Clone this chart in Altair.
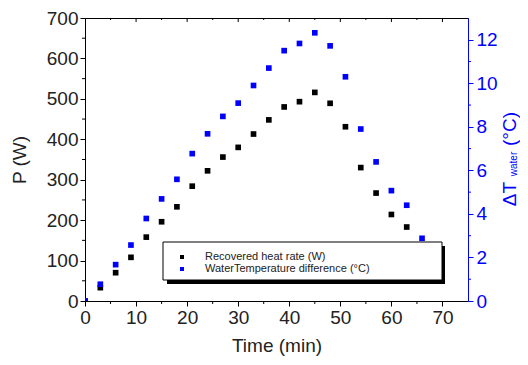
import altair as alt
import pandas as pd

# ---- data ----
time_p = [0, 3, 6, 9, 12, 15, 18, 21, 24, 27, 30, 33, 36, 39, 42, 45, 48, 51, 54, 57, 60, 63]
power_w = [0, 33, 70, 108, 158, 196, 233, 284, 322, 356, 380, 413, 448, 480, 493, 516, 489, 431, 330, 267, 214, 183]
time_dt = [0, 3, 6, 9, 12, 15, 18, 21, 24, 27, 30, 33, 36, 39, 42, 45, 48, 51, 54, 57, 60, 63, 66]
delta_t = [0, 0.77, 1.67, 2.57, 3.79, 4.69, 5.59, 6.77, 7.68, 8.48, 9.09, 9.9, 10.7, 11.5, 11.83,
           12.32, 11.72, 10.3, 7.9, 6.39, 5.07, 4.4, 2.88]

x_major = [0, 10, 20, 30, 40, 50, 60, 70]
x_minor = [5, 15, 25, 35, 45, 55, 65]
p_major = [0, 100, 200, 300, 400, 500, 600, 700]
p_minor = [50, 150, 250, 350, 450, 550, 650]
dt_major = [0, 2, 4, 6, 8, 10, 12]
dt_minor = [1, 3, 5, 7, 9, 11]

legend_labels = ["Recovered heat rate (W)", "WaterTemperature difference (°C)"]
legend_colors = ["#000000", "#0000FF"]

W, H = 383, 283
FONT = "Liberation Sans"
BLUE = "#0000FF"

xs = alt.Scale(domain=[0, 75], nice=False, zero=False)
ys_left = alt.Scale(domain=[0, 700], nice=False)
ys_right = alt.Scale(domain=[0, 13], nice=False)

df_p = pd.DataFrame({"t": time_p, "P": power_w})
df_dt = pd.DataFrame({"t": time_dt, "dT": delta_t})

x_axis = alt.Axis(values=x_major, title="Time (min)", tickSize=5, labelPadding=2,
                  labelFontSize=19, titleFontSize=19, titleFontWeight="normal",
                  labelFlush=False, labelOverlap=False, titlePadding=9,
                  domainColor="black", tickColor="black", labelColor="#222", titleColor="#222")
y_left_axis = alt.Axis(values=p_major, title="P (W)", tickSize=5, labelPadding=2,
                       labelFontSize=19, titleFontSize=19, titleFontWeight="normal",
                       labelFlush=False, labelOverlap=False, titlePadding=17,
                       domainColor="black", tickColor="black", labelColor="#222",
                       titleColor="#222")
y_right_axis = alt.Axis(orient="right", values=dt_major, title=None, tickSize=5,
                        labelPadding=3, labelFontSize=19, labelFlush=False,
                        labelOverlap=False, domainColor=BLUE, tickColor=BLUE,
                        labelColor=BLUE)

black_pts = alt.Chart(df_p).mark_square(size=32, color="black", opacity=1, clip=True).encode(
    x=alt.X("t:Q", scale=xs, axis=x_axis),
    y=alt.Y("P:Q", scale=ys_left, axis=y_left_axis),
)

# minor / mirrored ticks (data-positioned)
bx_minor = alt.Chart(pd.DataFrame({"t": x_minor})).mark_rule(color="black").encode(
    x=alt.X("t:Q", scale=xs, axis=x_axis), y=alt.value(H), y2=alt.value(H + 3))
top_major = alt.Chart(pd.DataFrame({"t": x_major[1:]})).mark_rule(color="black").encode(
    x=alt.X("t:Q", scale=xs, axis=x_axis), y=alt.value(0), y2=alt.value(4))
top_minor = alt.Chart(pd.DataFrame({"t": x_minor})).mark_rule(color="black").encode(
    x=alt.X("t:Q", scale=xs, axis=x_axis), y=alt.value(0), y2=alt.value(2))
left_minor = alt.Chart(pd.DataFrame({"P": p_minor})).mark_rule(color="black").encode(
    y=alt.Y("P:Q", scale=ys_left, axis=y_left_axis), x=alt.value(0), x2=alt.value(-3))

left = alt.layer(black_pts, bx_minor, top_major, top_minor, left_minor)

blue_pts = alt.Chart(df_dt).mark_square(size=32, color=BLUE, opacity=1, clip=True).encode(
    x=alt.X("t:Q", scale=xs, axis=x_axis),
    y=alt.Y("dT:Q", scale=ys_right, axis=y_right_axis),
)
right_minor = alt.Chart(pd.DataFrame({"dT": dt_minor})).mark_rule(color=BLUE).encode(
    y=alt.Y("dT:Q", scale=ys_right, axis=y_right_axis), x=alt.value(W), x2=alt.value(W + 3))
right = alt.layer(blue_pts, right_minor)

# ---- legend box & right-axis title (annotation layers) ----
one = alt.Data(values=[{}])
shadow = alt.Chart(one).mark_rect(color="black").encode(
    x=alt.value(82), x2=alt.value(360), y=alt.value(228), y2=alt.value(266))
box = alt.Chart(one).mark_rect(color="white", stroke="black", strokeWidth=1).encode(
    x=alt.value(78), x2=alt.value(357), y=alt.value(224), y2=alt.value(262))
leg_df = pd.DataFrame({"label": legend_labels, "color": legend_colors, "row": [0, 1]})
leg_y = alt.Scale(range=[239, 251], padding=0)
leg_marks = alt.Chart(leg_df).mark_square(size=16, opacity=1).encode(
    x=alt.value(97),
    y=alt.Y("row:O", scale=leg_y, axis=None),
    color=alt.Color("color:N", scale=None),
)
leg_text = alt.Chart(leg_df).mark_text(align="left", baseline="middle", font=FONT,
                                       fontSize=11, color="#222").encode(
    x=alt.value(120),
    y=alt.Y("row:O", scale=leg_y, axis=None),
    text="label:N",
)
t1 = alt.Chart(one).mark_text(text="ΔT", angle=270, font=FONT, fontSize=19, color=BLUE,
                              align="center", baseline="middle").encode(
    x=alt.value(425), y=alt.value(176))
t2 = alt.Chart(one).mark_text(text="water", angle=270, font=FONT, fontSize=10, color=BLUE,
                              align="center", baseline="middle").encode(
    x=alt.value(429), y=alt.value(146))
t3 = alt.Chart(one).mark_text(text="(°C)", angle=270, font=FONT, fontSize=19, color=BLUE,
                              align="center", baseline="middle").encode(
    x=alt.value(425), y=alt.value(111))
annot = alt.layer(shadow, box, leg_marks, leg_text, t1, t2, t3)

chart = alt.layer(left, right, annot).resolve_scale(y="independent").properties(
    width=W, height=H,
    autosize=alt.AutoSizeParams(type="none"),
    padding={"left": 77, "top": 10, "right": 52, "bottom": 56},
).configure_view(stroke="black", strokeWidth=1).configure_axis(
    labelFont=FONT, titleFont=FONT, grid=False
)

chart.save("out.html", embed_options={"renderer": "svg", "actions": False})
